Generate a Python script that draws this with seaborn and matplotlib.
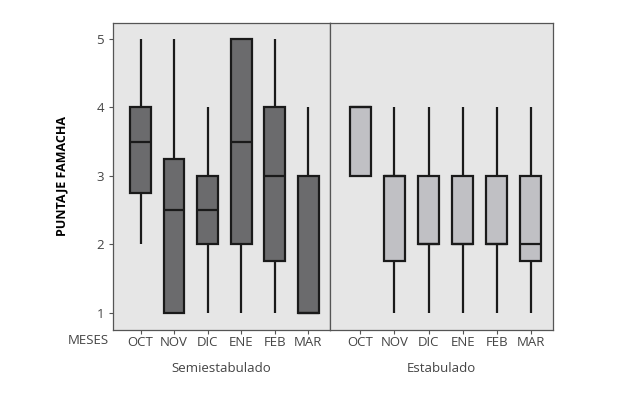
import seaborn as sns
import matplotlib.pyplot as plt
import pandas as pd
import matplotlib

matplotlib.use("Agg")

meses = ["OCT", "NOV", "DIC", "ENE", "FEB", "MAR"]
grupos = ["Semiestabulado", "Estabulado"]

# puntajes FAMACHA (8 animales por mes)
semiestabulado = {
    "OCT": [2, 2, 3, 3, 4, 4, 4, 5],
    "NOV": [1, 1, 1, 2, 3, 3, 4, 5],
    "DIC": [1, 2, 2, 2, 3, 3, 3, 4],
    "ENE": [1, 2, 2, 3, 4, 5, 5, 5],
    "FEB": [1, 1, 2, 3, 3, 4, 4, 5],
    "MAR": [1, 1, 1, 1, 1, 3, 3, 4],
}
estabulado = {
    "OCT": [3, 3, 3, 4, 4, 4, 4, 4],
    "NOV": [1, 1, 2, 3, 3, 3, 3, 4],
    "DIC": [1, 2, 2, 2, 2, 3, 3, 4],
    "ENE": [1, 2, 2, 2, 2, 3, 3, 4],
    "FEB": [1, 2, 2, 2, 2, 3, 3, 4],
    "MAR": [1, 1, 2, 2, 2, 3, 3, 4],
}
colores = ["#6b6b6d", "#c0c0c4"]

rows = []
for grupo, datos in zip(grupos, [semiestabulado, estabulado]):
    for mes in meses:
        for v in datos[mes]:
            rows.append({"grupo": grupo, "mes": mes, "puntaje": v})
df = pd.DataFrame(rows)

plt.rcParams["font.family"] = ["Open Sans", "DejaVu Sans"]

fig = plt.figure(figsize=(6.4, 3.95), dpi=100)
x0, x1, xm = 113 / 640, 553 / 640, 330 / 640
y0, y1 = 1 - 330 / 395, 1 - 23 / 395
axes = [
    fig.add_axes([x0, y0, xm - x0, y1 - y0]),
    fig.add_axes([xm, y0, x1 - xm, y1 - y0]),
]

for i, (ax, grupo) in enumerate(zip(axes, grupos)):
    sub = df[df["grupo"] == grupo]
    ax.set_facecolor("#e6e6e6")
    sns.boxplot(
        data=sub,
        x="mes",
        y="puntaje",
        order=meses,
        color=colores[i],
        saturation=1,
        width=0.62,
        linecolor="#1a1a1a",
        linewidth=1.6,
        showcaps=False,
        showfliers=False,
        ax=ax,
    )
    ax.set_ylim(0.75, 5.23)
    ax.set_xlim(-0.82 if i == 0 else -0.89, 5.65)
    ax.set_xlabel(grupo, fontsize=9.5, color="#444444", labelpad=9)
    ax.set_ylabel("")
    ax.tick_params(axis="x", colors="#444444", labelsize=9.5, length=3, pad=1.5, color="#555555")
    for s in ax.spines.values():
        s.set_color("#555555")
        s.set_linewidth(0.9)
    if i == 0:
        ax.set_yticks([1, 2, 3, 4, 5])
        ax.tick_params(axis="y", colors="#444444", labelsize=9.5, length=3, color="#555555")
        ax.set_ylabel("PUNTAJE FAMACHA", fontsize=9, fontweight="bold", color="black", labelpad=20)
    else:
        ax.set_yticks([])

fig.text(88 / 640, 1 - 341 / 395, "MESES", fontsize=9.5, color="#444444", ha="center", va="center")

plt.savefig("out.png", dpi=100)
